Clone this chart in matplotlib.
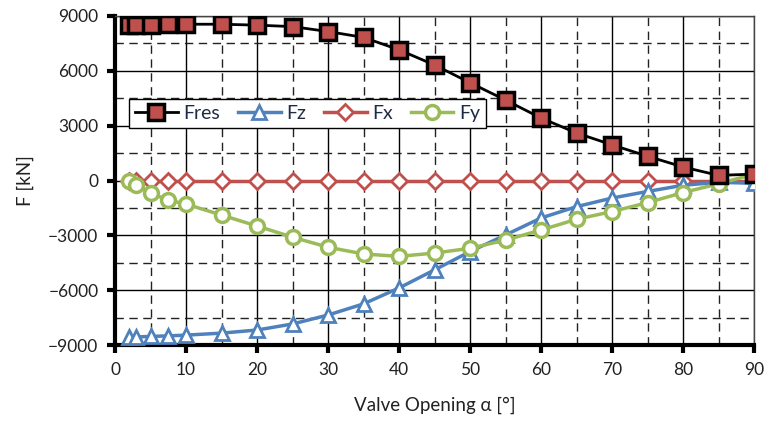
import matplotlib
matplotlib.use('Agg')
import matplotlib.pyplot as plt
from matplotlib.ticker import MultipleLocator

plt.rcParams['font.family'] = ['Lato', 'DejaVu Sans']

# valve opening angle [deg]
alpha = [2, 3, 5, 7.5, 10, 15, 20, 25, 30, 35, 40, 45, 50, 55, 60, 65, 70, 75, 80, 85, 90]

# forces [kN]
f_res = [8500, 8500, 8500, 8550, 8550, 8550, 8500, 8420, 8150, 7830, 7150, 6320, 5350, 4400,
         3420, 2600, 1950, 1330, 740, 280, 350]
f_z = [-8560, -8560, -8530, -8500, -8460, -8350, -8180, -7850, -7360, -6750, -5880, -4890,
       -3890, -2980, -2050, -1430, -960, -600, -260, -100, -150]
f_x = [0] * len(alpha)
f_y = [0, -250, -700, -1070, -1290, -1890, -2490, -3100, -3650, -4020, -4150, -3970, -3710,
       -3260, -2710, -2120, -1700, -1210, -660, -180, 350]

fig = plt.figure(figsize=(7.74, 4.21), dpi=100)
ax = fig.add_axes([0.1486, 0.1805, 0.8256, 0.7815])

ax.plot(alpha, f_res, color='black', lw=2, marker='s', ms=11,
        mfc='#c0504d', mec='black', mew=2.5, label='Fres', zorder=5)
ax.plot(alpha, f_z, color='#4f81bd', lw=2.5, marker='^', ms=10,
        mfc='white', mec='#4f81bd', mew=2, label='Fz', zorder=4)
ax.plot(alpha, f_x, color='#c0504d', lw=2.5, marker='D', ms=8,
        mfc='white', mec='#c0504d', mew=2, label='Fx', zorder=3)
ax.plot(alpha, f_y, color='#9bbb59', lw=2.5, marker='o', ms=10,
        mfc='white', mec='#9bbb59', mew=2.5, label='Fy', zorder=4)

ax.set_xlim(0, 90)
ax.set_ylim(-9000, 9000)
ax.xaxis.set_major_locator(MultipleLocator(10))
ax.xaxis.set_minor_locator(MultipleLocator(5))
ax.yaxis.set_major_locator(MultipleLocator(3000))
ax.yaxis.set_minor_locator(MultipleLocator(1500))

ax.grid(which='major', color='black', lw=1, ls='-', zorder=0)
ax.grid(which='minor', color='#222222', lw=1, ls=(0, (6, 4)), zorder=0)
ax.set_axisbelow(True)

for s in ['left', 'bottom']:
    ax.spines[s].set_linewidth(3)
    ax.spines[s].set_color('black')
for s in ['top', 'right']:
    ax.spines[s].set_linewidth(1)
    ax.spines[s].set_color('#444444')

ax.tick_params(which='major', direction='out', length=6, width=3, labelsize=12.5,
               labelcolor='#222222', pad=6)
ax.tick_params(which='minor', length=0)

ax.set_xlabel('Valve Opening α [°]', fontsize=13.5, color='#222222', labelpad=14)
ax.set_ylabel('F [kN]', fontsize=13.5, color='#222222', labelpad=10)

leg = ax.legend(loc='upper left', bbox_to_anchor=(0.022, 0.748), ncol=4, fontsize=14,
                frameon=True, fancybox=False, framealpha=1, edgecolor='black',
                handlelength=2.2, handletextpad=0.3, columnspacing=0.9,
                borderpad=0.3, borderaxespad=0)
leg.get_frame().set_linewidth(1)
for t in leg.get_texts():
    t.set_color('#1f2a44')

fig.savefig('out.png', dpi=100)
